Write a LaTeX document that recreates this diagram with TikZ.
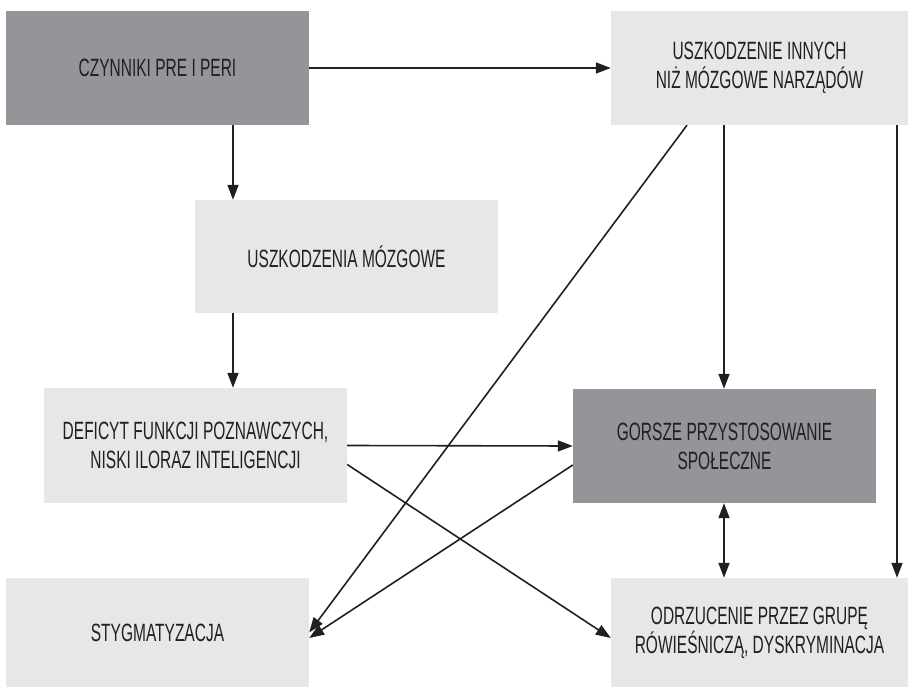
\documentclass[tikz,border=0pt]{standalone}
\usepackage{fontspec}
\setmainfont{Liberation Sans}[FakeStretch=0.62]
\usetikzlibrary{arrows.meta}
\definecolor{darkbox}{HTML}{939598}
\definecolor{lightbox}{HTML}{E6E7E8}
\definecolor{ink}{HTML}{231F20}
\tikzset{
  box/.style={rectangle, inner sep=0pt, text=ink, align=center,
    font=\fontsize{25}{29}\selectfont},
  darkb/.style={box, fill=darkbox},
  lightb/.style={box, fill=lightbox},
  arr/.style={draw=ink, line width=1.6pt, -{Triangle[length=15pt,width=11pt]}},
  darr/.style={draw=ink, line width=1.6pt, {Triangle[length=15pt,width=11pt]}-{Triangle[length=15pt,width=11pt]}}
}
\begin{document}
\begin{tikzpicture}[x=1pt,y=-1pt]
\useasboundingbox (0,0) rectangle (908,687);
\node[darkb, minimum width=303pt, minimum height=114pt] (b1) at (157.5,68) {CZYNNIKI PRE I PERI};
\node[lightb, minimum width=297pt, minimum height=114pt] (b2) at (759.5,68) {USZKODZENIE INNYCH\\NIŻ MÓZGOWE NARZĄDÓW};
\node[lightb, minimum width=303pt, minimum height=113pt] (b3) at (346.5,256.5) {USZKODZENIA MÓZGOWE};
\node[lightb, minimum width=303pt, minimum height=115pt] (b4) at (195.5,445.5) {DEFICYT FUNKCJI POZNAWCZYCH,\\NISKI ILORAZ INTELIGENCJI};
\node[darkb, minimum width=303pt, minimum height=114pt] (b5) at (724.5,446) {GORSZE PRZYSTOSOWANIE\\SPOŁECZNE};
\node[lightb, minimum width=303pt, minimum height=109pt] (b6) at (157.5,632.5) {STYGMATYZACJA};
\node[lightb, minimum width=297pt, minimum height=109pt] (b7) at (759.5,632.5) {ODRZUCENIE PRZEZ GRUPĘ\\RÓWIEŚNICZĄ, DYSKRYMINACJA};
\coordinate (xa) at (233,0);
\coordinate (xb) at (687,0);
\coordinate (xc) at (724,0);
\coordinate (xd) at (897,0);
\draw[arr] (b1.east) -- (b2.west);
\draw[arr] (b1.south -| xa) -- (b3.north -| xa);
\draw[arr] (b3.south -| xa) -- (b4.north -| xa);
\draw[arr] (b2.south -| xb) -- (b6.east);
\draw[arr] (b2.south -| xc) -- (b5.north -| xc);
\draw[arr] (b2.south -| xd) -- (b7.north -| xd);
\draw[arr] (b4.east) -- (b5.west);
\draw[arr] ([yshift=-19pt]b4.east) -- ([yshift=-5.5pt]b7.west);
\draw[arr] ([yshift=-19pt]b5.west) -- ([yshift=-5.5pt]b6.east);
\draw[darr] (b5.south -| xc) -- (b7.north -| xc);
\end{tikzpicture}
\end{document}
